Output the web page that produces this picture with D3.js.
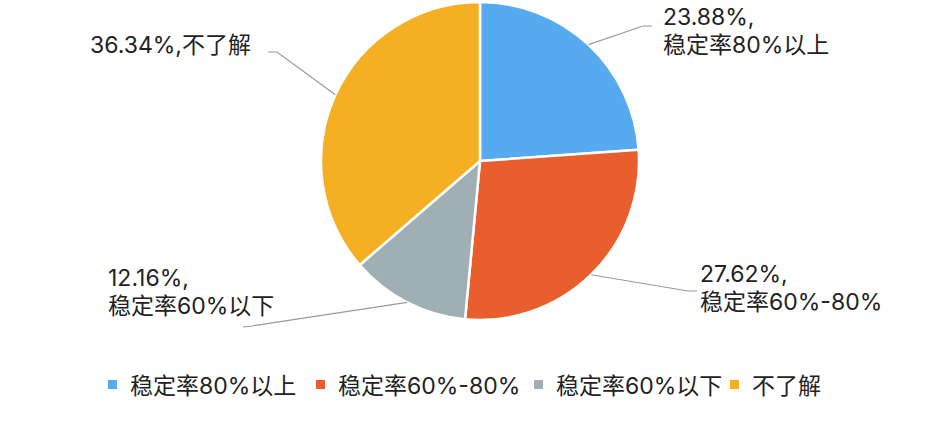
<!DOCTYPE html>
<html><head><meta charset="utf-8">
<script src="https://cdn.jsdelivr.net/npm/d3@7/dist/d3.min.js"></script>
<style>
html,body{margin:0;padding:0;background:#fff;}
text{font-family:"Inter","Noto Sans CJK SC",sans-serif;fill:#222;}
</style></head>
<body><svg id="c" width="933" height="437"></svg>
<script>
const categories = ["稳定率80%以上", "稳定率60%-80%", "稳定率60%以下", "不了解"];
const values = [23.88, 27.62, 12.16, 36.34];
const valueLabels = ["23.88%", "27.62%", "12.16%", "36.34%"];
const colors = ["#56AAF0", "#E85E2C", "#9FAFB4", "#F4B022"];

// layout: label anchor (line end) and text placement per slice
const layout = [
  {bend:[643,26], end:[652,26], tx:663, ty:25, lines:2},
  {bend:[688,291], end:[697,291], tx:700, ty:282, lines:2},
  {bend:[252,326], end:[243,327], tx:108, ty:286, lines:2},
  {bend:[277,52], end:[268,52], tx:90, ty:53, lines:1}
];

const svg = d3.select("#c");
const cx = 480, cy = 161, R = 159;
const g = svg.append("g").attr("transform", `translate(${cx},${cy})`);
const pie = d3.pie().sort(null).value(d => d)(values);
const arc = d3.arc().innerRadius(0).outerRadius(R);
g.selectAll("path.s").data(pie).join("path").attr("class","s")
  .attr("d", arc).attr("fill", (d,i)=>colors[i])
  .attr("stroke","#fff").attr("stroke-width",2.5).attr("stroke-linejoin","round");

const edge = d3.arc().innerRadius(R).outerRadius(R);
pie.forEach((d,i)=>{
  const L = layout[i];
  const [ex,ey] = edge.centroid(d);
  const p = [[ex+cx,ey+cy], L.bend, L.end];
  svg.append("path").attr("d", d3.line()(p)).attr("fill","none")
    .attr("stroke","#9a9a9a").attr("stroke-width",1.2);
  const t = svg.append("text").attr("font-size",23).attr("x",L.tx).attr("y",L.ty);
  if (L.lines===2){
    t.append("tspan").attr("x",L.tx).text(valueLabels[i]+",");
    t.append("tspan").attr("x",L.tx).attr("dy",28).text(categories[i]);
  } else {
    t.text(valueLabels[i]+","+categories[i]);
  }
});

// legend
const legX = [108, 316, 534, 730];
const leg = svg.append("g");
categories.forEach((c,i)=>{
  leg.append("rect").attr("x",legX[i]).attr("y",380).attr("width",9).attr("height",9).attr("fill",colors[i]);
  leg.append("text").attr("x",legX[i]+22).attr("y",394).attr("font-size",23).text(c);
});
</script></body></html>
